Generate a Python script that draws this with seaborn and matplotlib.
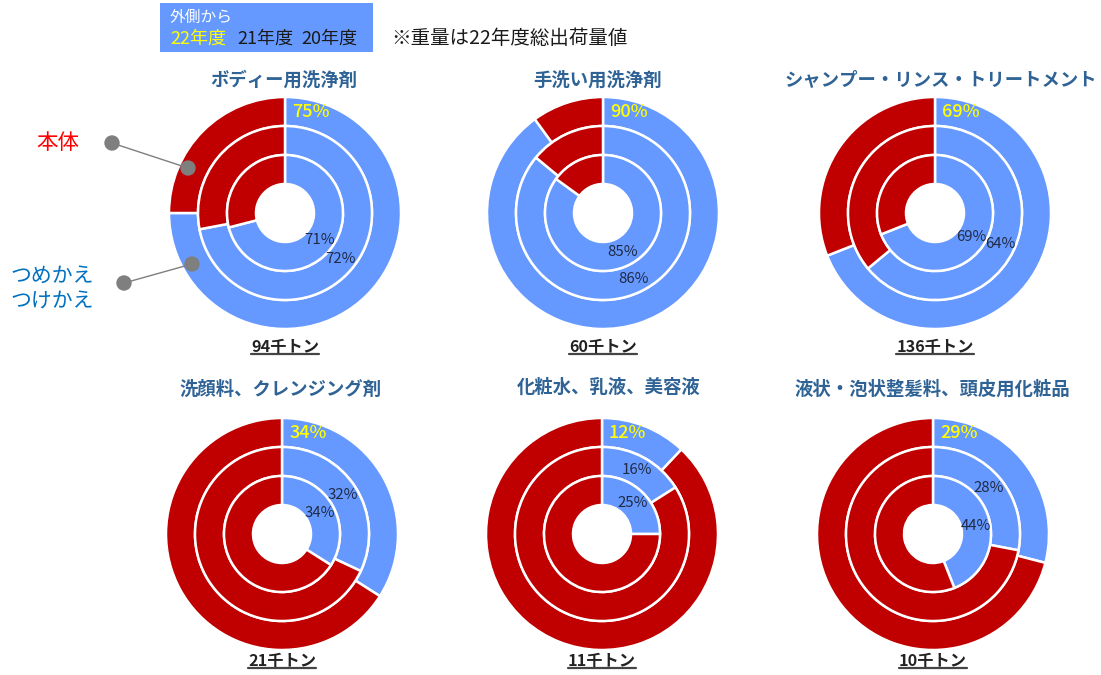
import matplotlib
matplotlib.use("Agg")
import matplotlib.pyplot as plt
import numpy as np
import seaborn as sns
from matplotlib.patches import Rectangle, Circle

sns.set_theme(style="white")
plt.rcParams['font.family'] = ['Noto Sans CJK JP', 'DejaVu Sans']

# データ
titles = ["ボディー用洗浄剤", "手洗い用洗浄剤", "シャンプー・リンス・トリートメント",
          "洗顔料、クレンジング剤", "化粧水、乳液、美容液", "液状・泡状整髪料、頭皮用化粧品"]
refill_22 = [75, 90, 69, 34, 12, 29]   # 外側
refill_21 = [72, 86, 64, 32, 16, 28]   # 中
refill_20 = [71, 85, 69, 34, 25, 44]   # 内側
weights = ["94千トン", "60千トン", "136千トン", "21千トン", "11千トン", "10千トン"]

BLUE = "#6699FF"
RED = "#C00000"
TITLE_C = "#2F6395"
LABEL_C = "#1F2A44"

W, H = 1101, 675
fig = plt.figure(figsize=(W / 100, H / 100), dpi=100)
ax = fig.add_axes([0, 0, 1, 1])

def Y(y):
    return H - y

centers = [(285, 213), (603, 213), (935, 213), (282, 534), (602, 534), (933, 534)]
title_y = [80, 80, 80, 389, 387, 389]
title_x = [284, 598, 941, 281, 609, 932]
wt_y = [347, 347, 347, 661, 661, 661]
ring_w = 29
radii = [116, 87, 58]

for i, (cx, cy) in enumerate(centers):
    rings = [refill_22[i], refill_21[i], refill_20[i]]
    for r, v in zip(radii, rings):
        ax.pie([v, 100 - v], radius=r, center=(cx, Y(cy)), startangle=90,
               counterclock=False, colors=[BLUE, RED],
               wedgeprops=dict(width=ring_w, edgecolor="white", linewidth=1.8))
    ax.text(title_x[i], Y(title_y[i]), titles[i], ha="center", va="center",
            fontsize=13.2, fontweight="bold", color=TITLE_C)
    ax.text(cx + 7, Y(cy - 101), f"{rings[0]}%", ha="left", va="center",
            fontsize=13, fontweight="medium", color="#FFFF00")
    # 内側2リングのラベル
    for r, v in [(radii[1] - ring_w / 2, rings[1]), (radii[2] - ring_w / 2, rings[2])]:
        a = np.deg2rad(90 - v * 3.6 / 2)
        ax.text(cx + r * np.cos(a), Y(cy) + r * np.sin(a), f"{v}%", ha="center",
                va="center", fontsize=10.8, color=LABEL_C)

wt_texts = []
for i, (cx, cy) in enumerate(centers):
    t = ax.text(cx, Y(wt_y[i]), weights[i], ha="center", va="center",
                fontsize=11.7, fontweight="bold", color="#222222")
    wt_texts.append(t)

# 凡例ボックス
ax.add_patch(Rectangle((160, Y(52)), 213, 49, facecolor=BLUE, edgecolor="none"))
ax.text(170, Y(17), "外側から", ha="left", va="center", fontsize=11.3, color="white")
ax.text(170, Y(39), "22年度", ha="left", va="center", fontsize=13, color="#FFFF00")
ax.text(237, Y(39), "21年度", ha="left", va="center", fontsize=13, color="#1A1A1A")
ax.text(301, Y(39), "20年度", ha="left", va="center", fontsize=13, color="#1A1A1A")
ax.text(391, Y(38), "※重量は22年度総出荷量値", ha="left", va="center", fontsize=14,
        color="#1A1A1A")

# 吹き出し
ax.text(58, Y(143), "本体", ha="center", va="center", fontsize=15.5, color="#FF0000")
ax.text(52, Y(289), "つめかえ\nつけかえ", ha="center", va="center", fontsize=15,
        color="#0070C0", linespacing=1.2)
for (x1, y1), (x2, y2) in [((112, 143), (188, 168)), ((124, 283), (192, 264))]:
    ax.plot([x1, x2], [Y(y1), Y(y2)], color="#7F7F7F", lw=1)
    ax.add_patch(Circle((x1, Y(y1)), 7, color="#7F7F7F"))
    ax.add_patch(Circle((x2, Y(y2)), 7, color="#7F7F7F"))

ax.set_xlim(0, W)
ax.set_ylim(0, H)
ax.set_aspect("equal")
ax.axis("off")

# 重量の下線
fig.canvas.draw()
inv = ax.transData.inverted()
for t in wt_texts:
    bb = t.get_window_extent()
    (x0, y0), (x1, y1) = inv.transform([[bb.x0, bb.y0], [bb.x1, bb.y1]])
    ax.plot([x0, x1], [y0 + 1, y0 + 1], color="#444444", lw=1.6)

fig.savefig("out.png", dpi=100)
